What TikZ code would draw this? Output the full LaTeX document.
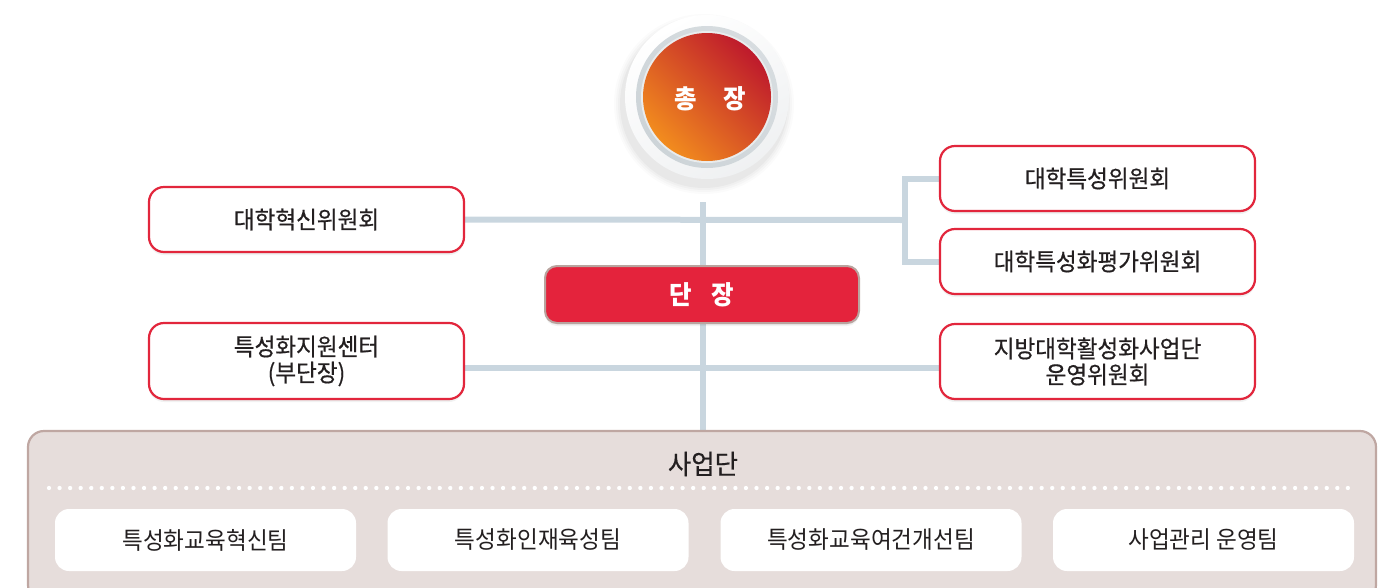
\documentclass[tikz,border=0pt]{standalone}
\usepackage{fontspec}
\newfontfamily\kr[FakeStretch=0.94,FakeBold=0.5]{Noto Sans CJK KR}
\newfontfamily\krl[FakeStretch=0.94]{Noto Sans CJK KR}
\usetikzlibrary{backgrounds}
\definecolor{lineC}{HTML}{C9D6DF}
\definecolor{redB}{HTML}{E2263C}
\definecolor{danF}{HTML}{E4233C}
\definecolor{danB}{HTML}{B9A49F}
\definecolor{bigF}{HTML}{E6DDDB}
\definecolor{bigB}{HTML}{BFA7A2}
\definecolor{txt}{HTML}{231F20}
\definecolor{orA}{HTML}{F28C1E}
\definecolor{orB}{HTML}{BE1A2C}
\definecolor{ringO}{HTML}{F3F4F5}
\definecolor{ringG}{HTML}{CDD4D8}
\begin{document}
\begin{tikzpicture}[x=1pt,y=-1pt,
  conn/.style={draw=lineC, line width=6pt},
  soft/.style={preaction={fill=black, fill opacity=0.05, draw=none, transform canvas={yshift=-3pt}},
               preaction={fill=black, fill opacity=0.05, draw=none, transform canvas={yshift=-1.5pt}}},
  redbox/.style={draw=redB, line width=2.2pt, fill=white, rounded corners=15pt, minimum width=315pt, align=center, font=\kr\fontsize{24}{26}\selectfont, text=txt, inner sep=0pt, soft},
  danbox/.style={draw=danB, line width=2pt, fill=danF, rounded corners=12pt, minimum width=314pt, minimum height=57pt, font=\krl\bfseries\fontsize{26}{28}\selectfont, text=white, inner sep=0pt, soft},
  bigbox/.style={draw=bigB, line width=2.2pt, fill=bigF, rounded corners=16pt, minimum width=1348pt, minimum height=170pt, inner sep=0pt, soft},
  teambox/.style={fill=white, rounded corners=14pt, minimum width=301pt, minimum height=62pt, font=\krl\fontsize{24}{26}\selectfont, text=txt, inner sep=0pt}
]
\useasboundingbox (0,0) rectangle (1398,587);
\clip (0,0) rectangle (1398,587);

\coordinate (vtop) at (703,202);
\coordinate (vbot) at (703,432);
\coordinate (brx) at (905,220);
\coordinate (hy2) at (703,368);

\node[redbox, minimum height=65pt] (lb1) at (306.5,219.5) {대학혁신위원회};
\node[redbox, minimum height=65pt] (rb1) at (1097.5,178.5) {대학특성위원회};
\node[redbox, minimum height=65pt] (rb2) at (1097.5,261.5) {대학특성화평가위원회};
\node[redbox, minimum height=76pt] (lb2) at (306.5,361) {특성화지원센터\\(부단장)};
\node[redbox, minimum height=75pt] (rb3) at (1097.5,361.5) {지방대학활성화사업단\\운영위원회};

\node[danbox] (dj) at (702,294.5) {단\hspace{20pt}장};

\begin{pgfonlayer}{background}
\draw[conn] (vtop) -- (vbot);
\draw[conn] (lb1.east) -- (brx);
\draw[conn, line join=miter] (rb1.west) -| (brx) |- (rb2.west);
\draw[conn] (lb2.east |- hy2) -- (rb3.west |- hy2);
\end{pgfonlayer}

% president circle
\foreach \r/\o in {90/0.015,88/0.02,86/0.025,84/0.03}
  \fill[black, fill opacity=\o] (704,104) circle[radius=\r pt];
\shade[shading=axis, top color=white, bottom color=ringO!90!ringG, shading angle=30] (707,97) circle[radius=82pt];
\shade[shading=axis, top color=ringG!80!white, bottom color=ringG, shading angle=-45] (707,97) circle[radius=71pt];
\fill[white!55!ringG] (707,97) circle[radius=66pt];
\shade[shading=axis, top color=orB, bottom color=orA, shading angle=-45] (707,97) circle[radius=64pt];
\node[font=\krl\bfseries\fontsize{26}{30}\selectfont, text=white, inner sep=0pt] (pres) at (710,99) {총\hspace{27pt}장};

% business group
\node[bigbox] (sa) at (702,516) {};
\node[font=\kr\fontsize{27}{30}\selectfont, text=txt, inner sep=0pt] (satitle) at (703,464) {사업단};
\coordinate (dotL) at (49,488);
\coordinate (dotR) at (1358,488);
\draw[white, line width=4.3pt, line cap=round, dash pattern=on 0pt off 10.56pt] (dotL) -- (dotR);

\node[teambox] (t1) at (205.5,540) {특성화교육혁신팀};
\node[teambox] (t2) at (538,540) {특성화인재육성팀};
\node[teambox] (t3) at (871,540) {특성화교육여건개선팀};
\node[teambox] (t4) at (1203.5,540) {사업관리 운영팀};
\end{tikzpicture}
\end{document}
